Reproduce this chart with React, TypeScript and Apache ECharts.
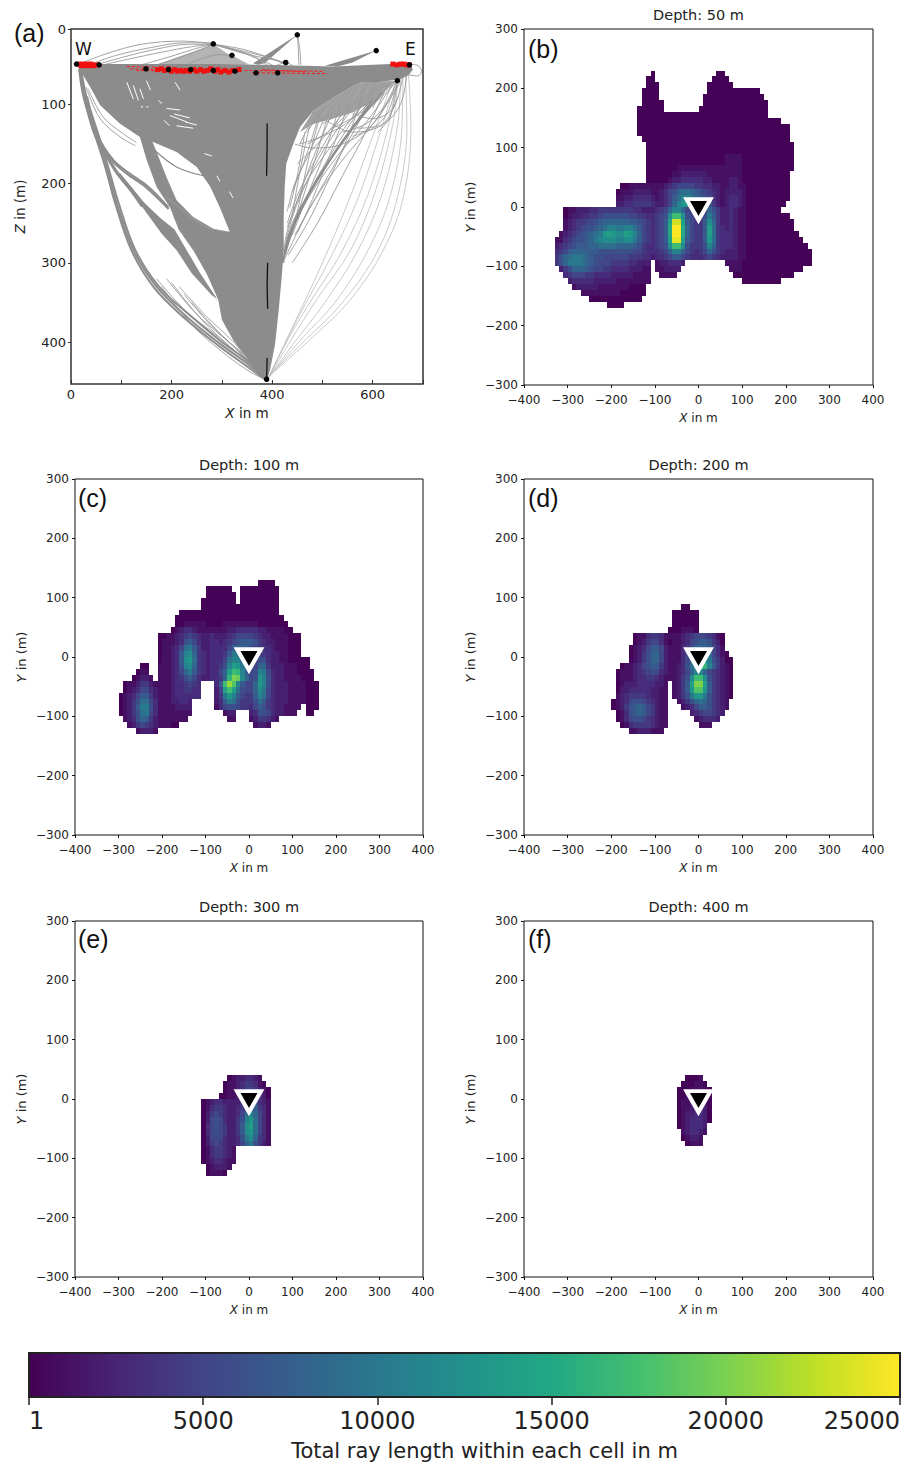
import React, { useEffect, useRef } from "react";
import * as echarts from "echarts";

// ---------- colour scale and colour bar ----------
const viridis = ["#440154", "#482475", "#414487", "#355f8d", "#2a788e", "#21918c", "#22a884", "#44bf70", "#7ad151", "#bddf26", "#fde725"];
const colorbarTicks = [1, 5000, 10000, 15000, 20000, 25000];

// ---------- panel titles ----------
const panelTitles = ["Depth: 50 m", "Depth: 100 m", "Depth: 200 m", "Depth: 300 m", "Depth: 400 m"];
const stationMarker = [0, -4.5];

// ---------- ray length per 10 m cell: "startX/10:cells" per row, in thousands of m (base 36), top row first ----------
const depth50Top = 230;
const depth50Rows = [
  "-11:0 4:00", "-12:00 3:0000", "-12:000 2:0*6", "-13:0000 2:0*12", "-13:0000 1:0*14", "-13:0*5 1:0*15", "-14:0*6 0:0*16",
  "-14:0*30", "-14:0*33", "-14:0*35", "-14:0*35", "-13:0*34", "-12:0*34", "-12:0*34",
  "-12:0*18|1*4|0*12", "-12:0*18|1*4|0*12", "-12:0*7|1*11|1*4|0*12",
  "-12:0*6|112222221111|1111|0*11",
  "-12:0*5|1223333322111|1221|0*11",
  "-18:0011111111|23455554433221|12211|0*10",
  "-19:0111222211|235689987654321|22221|0*10",
  "-19:1122333321|23579bba8765321|23321|0*10",
  "-19:2233444432|2358bddb9876421|23321|0*9",
  "-31:0112223344|4444443322|23458bb854|4458642232|11|0*8",
  "-31:0122334456|6666655443|3456chhc65|446a742232|11|0*10",
  "-31:1234455678|8888877654|3457enne75|447c842232|11|0*11",
  "-31:1234566789|bbaabb9754|3457fppf85|447e943232|11|0*11",
  "-32:1|23456789ad|edccedb854|3457fppf85|447e943332|11|0*12",
  "-33:11|3456678abc|ccbbcca754|3457eooe75|447d943332|11|0*13",
  "-33:23|4567778899|9988887643|3456chhc64|446b843332|11|0*14",
  "-33:34|5788877766|6666665543|33458bb854|3458643222|11|0*15",
  "-33:46|89aa987665|5555544433|2334577543|3345432|222|11|0*15",
  "-33:46|8aaa987655|54444332|22 -10:1223332 6:1111|0*16",
  "-32:24|688876554|43333222|11 -10:112222 7:111|0*14",
  "-31:3455544333|3222221111 -9:1111 8:0*14",
  "-30:233333222|2211111111 10:0*9",
  "-29:12222211111110000",
  "-27:111111111000000",
  "-25:0*12",
  "-21:0000",
];

const depth100Top = 130;
const depth100Rows = [
  "2:0000", "-10:0*6 -2:0*9", "-10:0*7 -2:0*9", "-11:0*8 -2:0*9", "-11:0*8 -3:0*10", "-16:0*23", "-17:0*25",
  "-17:00111110000111111110000000",
  "-18:0123321111111223333322111100",
  "-21:0011|23454322|322234555543|221111000",
  "-21:0111|23675322|332345677764|322111000",
  "-21:0112|359a7422|333357887654|332111000",
  "-21:0112|37bc8432|33347aa87654|432211000",
  "-21:0112|37cd9432|33359bb96556|63221100000",
  "-25:00 -21:1112|36bc8432|3346beda6558|84222111000",
  "-26:011 -21:1112|358a7432|3358ehgb756b|a5322111|0000",
  "-27:01221 -21:1112|34675322|3348gkjc856d|b63221111000",
  "-29:011244211112|334543 -8:37hlib7558db632221111000",
  "-29:012355321112|334433 -8:25ehe96558ca532221111000",
  "-30:0123577421112|333333 -8:24adb75447b9532221111000",
  "-30:0124699531112|2332 -8:237a964446974322|21111000",
  "-30:01247aa631111|2222 -8:13566544357643221111 13:000",
  "-30:012469a531111|1111 -6:122 0:23665322111 13:00",
  "-29:123687421111|111 -5:11 0:1244321",
  "-28:124543211100 1:1221",
  "-26:12221",
];

const depth200Top = 90;
const depth200Rows = [
  "-4:00", "-6:0*6", "-6:0*6", "-6:0*6", "-7:0001110",
  "-15:01134431|1112345554310",
  "-15:01245531|0112356776420",
  "-16:012357752|1113468887531",
  "-16:012468852|1113579aa85310",
  "-16:012468852|111358bdca64200",
  "-18:01|123567742|112369dhgb74210",
  "-19:011|123456532|112358bb8543210",
  "-19:011|123344321|11246chhc643210",
  "-19:012|223333221 -6:1247ekke743210",
  "-19:022|333332211 -6:1247diid743210",
  "-19:123|444432211 -6:1246adda643210",
  "-20:0123|566543211 -5:124689864321",
  "-20:0124|678754211 -4:12357764321",
  "-19:013|678754211 -2:23455432",
  "-19:013|566543211 -1:123332",
  "-18:01|344443211 0:111",
  "-16:11222111",
];

const depth300Top = 40;
const depth300Rows = [
  "-5:01223321", "-6:0112344310", "-6:01123554210", "-7:001123565320",
  "-11:0123322223565321",
  "-11:0134432234797431",
  "-11:02454322359b8531",
  "-11:0256532246bd9531",
  "-11:0356542247ce9531",
  "-11:0356542247cd9531",
  "-11:0255532236ac8431",
  "-11:02454322358a6421",
  "-11:01344321", "-11:01344321", "-11:01233211", "-10:012221", "-10:01110",
];

const depth400Top = 40;
const depth400Rows = [
  "-3:0001", "-4:000110", "-5:00011110", "-5:00112210", "-5:01122210", "-5:01123320",
  "-5:01223320", "-5:01233320", "-5:0123332", "-4:123321", "-4:01221", "-3:0111",
];

// ---------- panel (a): ray fan, X and Z in m ----------
const fanOutline = [
  [11, 49], [124, 49], [283, 49], [389, 50], [522, 52], [635, 49], [675, 50], [680, 56], [671, 63], [655, 68], [608, 72], [575, 72], [528, 89], [482, 108],
  [456, 128], [442, 150], [428, 175], [425, 204], [423, 242], [423, 284], [419, 318], [413, 360], [406, 402], [396, 435], [389, 449],
  [376, 442], [353, 423], [323, 398], [300, 372], [293, 347], [270, 314], [243, 284], [214, 258], [197, 230], [170, 204], [151, 171], [137, 141], [97, 124], [58, 101], [38, 78],
];
const fanStripe = [
  [293, 347], [280, 341], [240, 313], [210, 284], [180, 263], [141, 229], [91, 187], [98, 187], [144, 223], [177, 243], [206, 258], [230, 284], [257, 313], [290, 345],
];
const lensHole = [
  [162, 147], [210, 160], [250, 179], [277, 204], [296, 230], [316, 261], [283, 257], [243, 242], [210, 221], [190, 192], [174, 166],
];
const topFanWedges = [
  [[283, 24], [170, 50], [345, 50]],
  [[320, 38], [285, 50], [355, 50]],
];
const sourceBands = [
  [[450, 12], [362, 48], [372, 50], [385, 48]],
  [[607, 32], [505, 51], [530, 52], [560, 47]],
];
const rightMesh = [[648, 70], [605, 95], [560, 110], [520, 118], [480, 125], [455, 135], [482, 108], [528, 89], [575, 72]];
const whiteFlecks = [
  [[111, 72], [124, 93]], [[124, 76], [134, 95]], [[137, 80], [144, 93]], [[139, 103], [143, 103]], [[150, 103], [154, 103]], [[174, 95], [181, 99]],
  [[190, 105], [217, 107]], [[197, 114], [230, 122]], [[210, 127], [243, 130]], [[227, 122], [250, 126]], [[207, 72], [217, 82]], [[150, 70], [158, 82]],
  [[185, 120], [196, 127]], [[205, 112], [236, 117]], [[265, 162], [280, 165]], [[290, 190], [296, 197]], [[315, 210], [322, 218]],
];
const bandRays = [
  [18, 55, 28, 91, 51, 137, 71, 179, 91, 225, 124, 284, 170, 330, 230, 368, 296, 402, 350, 427, 386, 446],
  [16, 55, 25, 91, 47, 137, 68, 179, 88, 225, 120, 284, 166, 332, 226, 370, 292, 404, 346, 429, 386, 447],
  [20, 55, 31, 91, 54, 137, 74, 179, 95, 225, 128, 284, 175, 330, 236, 366, 300, 400, 354, 425, 387, 446],
  [25, 85, 45, 135, 70, 165, 91, 187, 120, 210, 141, 229],
  [28, 88, 47, 137, 72, 165, 94, 187, 122, 208, 142, 226],
  [30, 90, 50, 140, 80, 170, 110, 187, 150, 205, 194, 232],
  [32, 90, 54, 140, 84, 170, 112, 185, 152, 203, 194, 230],
  [163, 156, 210, 179, 263, 190],
  [165, 154, 212, 177, 262, 188],
  [600, 95, 525, 160, 468, 218, 432, 268, 422, 300],
  [620, 85, 560, 130, 500, 185, 452, 240, 425, 290],
];
const lightRays = [
  [34, 80, 64, 116, 104, 137, 130, 148],
  [30, 78, 58, 118, 100, 142, 128, 152],
  [190, 320, 250, 365, 305, 395, 360, 425, 389, 447],
  [200, 325, 260, 372, 315, 405, 365, 432, 389, 447],
  [215, 330, 270, 368, 320, 398, 362, 428, 389, 447],
  [170, 320, 230, 362, 290, 392, 350, 425, 388, 447],
  [225, 340, 280, 380, 330, 410, 370, 435, 389, 447],
  [240, 350, 290, 385, 335, 412, 372, 435, 389, 447],
  [180, 330, 240, 378, 300, 412, 352, 436, 388, 448],
  [190, 217, 223, 234, 270, 255, 316, 261],
  [172, 150, 210, 165, 255, 185],
  [283, 23, 220, 20, 140, 24, 70, 36, 20, 48],
  [283, 23, 230, 22, 160, 28, 90, 38, 40, 49],
  [283, 24, 240, 27, 180, 34, 120, 42, 70, 49],
  [283, 24, 235, 24, 170, 30, 105, 40, 55, 49],
  [283, 24, 250, 33, 210, 42, 170, 50],
  [283, 24, 245, 30, 195, 40, 140, 50],
  [283, 24, 340, 30, 390, 40, 430, 50],
  [283, 24, 330, 32, 370, 42, 400, 50],
  [283, 24, 320, 30, 360, 38, 390, 50],
  [283, 24, 340, 35, 390, 42, 427, 47],
  [283, 24, 345, 33, 395, 41, 425, 48],
  [320, 38, 295, 37, 230, 50],
  [450, 12, 455, 30, 457, 50],
  [450, 12, 452, 30, 453, 50],
  [427, 47, 410, 50],
  [427, 47, 440, 50],
  [670, 49, 690, 51, 697, 58, 690, 64, 665, 62],
  [580, 100, 520, 150, 462, 205, 432, 255, 423, 285],
  [560, 105, 500, 160, 450, 225, 428, 270],
  [540, 110, 490, 165, 450, 215, 430, 250],
  [520, 110, 480, 170, 448, 225, 430, 255],
  [505, 115, 475, 160, 445, 200, 430, 235],
  [490, 120, 465, 170, 440, 210],
  [640, 75, 590, 120, 530, 165, 475, 215, 430, 270],
  [655, 72, 600, 125, 540, 170, 480, 225, 425, 295],
  [645, 80, 600, 125, 540, 150, 480, 155, 445, 150],
  [650, 90, 620, 125, 560, 135, 520, 125, 480, 110],
  [649, 70, 600, 85, 550, 105, 500, 125],
  [649, 70, 610, 95, 565, 115, 520, 130],
  [649, 70, 620, 105, 585, 125, 540, 135],
  [649, 70, 630, 110, 600, 130, 560, 140],
  [649, 72, 635, 115, 610, 135],
  [575, 70, 555, 90, 530, 110],
  [590, 72, 575, 95, 560, 115],
  [605, 72, 592, 92, 580, 110],
  [620, 72, 610, 90, 600, 105],
  [560, 78, 540, 95, 515, 115],
  [545, 85, 525, 100, 500, 120],
  [530, 90, 505, 105, 480, 125],
  [510, 98, 490, 115, 470, 135],
  [495, 108, 475, 125, 455, 150],
  [585, 75, 550, 110, 510, 135, 470, 150],
  [565, 85, 530, 120, 490, 150, 450, 175],
  [625, 74, 590, 100, 545, 125, 500, 140, 455, 150],
  [668, 60, 655, 100, 620, 125, 570, 130],
  [660, 64, 640, 105, 600, 118, 560, 112],
  [600, 78, 560, 120, 510, 170, 470, 215, 440, 250, 425, 285],
  [610, 76, 570, 125, 525, 175, 480, 225, 445, 265],
  [630, 74, 590, 130, 540, 190, 490, 250, 440, 300],
  [580, 90, 545, 150, 505, 205, 470, 250, 432, 290],
  [555, 95, 520, 155, 480, 220, 450, 262],
  [535, 100, 505, 160, 470, 215, 440, 265],
  [515, 105, 490, 160, 460, 220, 435, 270],
  [495, 115, 470, 175, 450, 235, 430, 275],
  [475, 125, 455, 185, 440, 240],
  [465, 135, 450, 190, 435, 230],
];
const thinArcRays = [
  [671, 61, 676, 128, 661, 217, 621, 284, 555, 347, 482, 393, 396, 442],
  [665, 60, 668, 130, 650, 215, 610, 285, 540, 350, 470, 395, 395, 442],
  [660, 62, 658, 130, 635, 215, 590, 285, 525, 350, 460, 395, 395, 443],
  [655, 65, 650, 125, 620, 210, 570, 285, 505, 350, 445, 400, 394, 444],
  [650, 68, 640, 125, 605, 210, 555, 285, 490, 345, 435, 400, 393, 445],
  [648, 70, 630, 130, 590, 215, 535, 290, 470, 355, 420, 410, 392, 446],
  [645, 72, 615, 135, 570, 220, 515, 295, 455, 365, 412, 420, 392, 446],
  [640, 70, 600, 140, 550, 225, 500, 300, 445, 375, 408, 425, 391, 447],
];
const blackStreaks = [
  [390, 124, 390, 150, 389, 190],
  [391, 300, 390, 330, 391, 358],
  [390, 420, 389, 450],
];
const redDashes = [
  [111, 52, 170, 53], [118, 55, 175, 56], [130, 57, 170, 57.5],
  [345, 57, 500, 58], [360, 60, 510, 61], [380, 56, 470, 59],
];
const redPoints = [
  [16, 49], [20, 51], [24, 49], [28, 51], [32, 49], [36, 51], [40, 49], [45, 51], [50, 50],
  [172, 56], [180, 55], [186, 57], [194, 55], [200, 58], [206, 56], [212, 58], [218, 57], [224, 58], [230, 57], [236, 58], [244, 56],
  [250, 58], [258, 56], [264, 58], [272, 57], [278, 55], [286, 58], [292, 56], [298, 59], [306, 57], [314, 59], [322, 57], [334, 56],
  [640, 49], [648, 50], [655, 49], [662, 49], [668, 50], [673, 50],
];
const blackSources = [
  [283, 23.5], [320, 38], [450, 12], [607, 32], [427, 47], [11, 49], [56, 50], [149, 55], [194, 56],
  [238, 56], [283, 57], [326, 58], [368, 60], [411, 60], [649, 70], [673, 50], [389, 447],
];

// ---------- helpers ----------
const FONT = "DejaVu Sans";
const toPairs = (flat: number[]) => {
  const out: number[][] = [];
  for (let i = 0; i < flat.length; i += 2) out.push([flat[i], flat[i + 1]]);
  return out;
};

const decodeRows = (rows: string[], top: number) => {
  const cells: number[][] = [];
  rows.forEach((row, r) => {
    row.split(" ").forEach((seg) => {
      const [start, body] = seg.split(":");
      const expanded = body.replace(/(\w)\*(\d+)/g, (_m, c, n) => c.repeat(Number(n))).replace(/\|/g, "");
      [...expanded].forEach((ch, i) => {
        cells.push([Number(start) * 10 + i * 10, top - r * 10, Math.max(1, parseInt(ch, 36) * 1000 + 150)]);
      });
    });
  });
  return cells;
};

const polygonSeries = (pts: number[][], fill: string, z: number) => ({
  type: "custom", coordinateSystem: "cartesian2d", xAxisIndex: 0, yAxisIndex: 0, silent: true, clip: true, z,
  data: [[pts[0][0], pts[0][1]]],
  renderItem: (_p: any, api: any) => ({ type: "polygon", shape: { points: pts.map((q) => api.coord(q)) }, style: { fill } }),
});

const raySeries = (flat: number[], color: string, width: number, z: number, dashed = false, smooth: number | boolean = 0.35) => ({
  type: "line", xAxisIndex: 0, yAxisIndex: 0, data: toPairs(flat), showSymbol: false, silent: true, clip: true, z, smooth,
  lineStyle: { color, width, type: dashed ? [3, 2] : "solid" },
});

const axisText = { fontFamily: FONT, color: "#222" };
const nameRich = (size: number) => ({
  i: { fontFamily: FONT, fontSize: size, fontStyle: "italic", color: "#222" },
  n: { fontFamily: FONT, fontSize: size, color: "#222" },
});
const noLine = { show: false, onZero: false };

export default function App() {
  const ref = useRef<HTMLDivElement>(null);
  useEffect(() => {
    document.body.style.margin = "0";
    const chart = echarts.init(ref.current!, undefined, { renderer: "svg" });

    const panelGrids = [
      { left: 524, top: 29, width: 349, height: 356 },
      { left: 75, top: 479, width: 348, height: 356 },
      { left: 524, top: 479, width: 349, height: 356 },
      { left: 75, top: 921, width: 348, height: 356 },
      { left: 524, top: 921, width: 349, height: 356 },
    ];
    const grids: any[] = [
      { left: 71, top: 29, width: 352, height: 355, show: true, borderColor: "#333", borderWidth: 1.5 },
      ...panelGrids.map((g) => ({ ...g, show: true, borderColor: "#111", borderWidth: 1 })),
      { left: 29, top: 1353, width: 871, height: 44, show: true, borderColor: "#222", borderWidth: 2, z: 8 },
    ];

    const xAxes: any[] = [
      {
        gridIndex: 0, type: "value", min: 0, max: 700, interval: 100, position: "bottom",
        splitLine: { show: false }, axisLine: noLine,
        axisTick: { inside: true, length: 4, lineStyle: { color: "#333" } },
        axisLabel: { ...axisText, fontSize: 13, margin: 4, formatter: (v: number) => (v % 200 === 0 ? String(v) : "") },
        name: "{i|X}{n| in m}", nameLocation: "middle", nameGap: 22, nameTextStyle: { rich: nameRich(13.5) },
      },
      ...panelGrids.map((_g, i) => ({
        gridIndex: i + 1, type: "value", min: -400, max: 400, interval: 100, position: "bottom",
        splitLine: { show: false }, axisLine: noLine,
        axisTick: { length: 3, lineStyle: { color: "#111" } },
        axisLabel: { ...axisText, fontSize: 12, margin: 9, formatter: (v: number) => String(v).replace("-", "\u2212") },
        name: "{i|X}{n| in m}", nameLocation: "middle", nameGap: 27, nameTextStyle: { rich: nameRich(12) },
      })),
      {
        gridIndex: 6, type: "value", min: 1, max: 25000, position: "bottom",
        splitLine: { show: false }, axisLine: noLine,
        axisTick: { length: 8, customValues: colorbarTicks, lineStyle: { color: "#222", width: 1.5 } },
        axisLabel: {
          ...axisText, fontSize: 24, margin: 12, customValues: colorbarTicks, alignMinLabel: "left", alignMaxLabel: "right",
          showMinLabel: true, showMaxLabel: true, formatter: (v: number) => String(v),
        },
        name: "Total ray length within each cell in m", nameLocation: "middle", nameGap: 43,
        nameTextStyle: { fontFamily: FONT, fontSize: 21, color: "#222", padding: [0, 0, 0, 40] },
      },
    ];
    const zTicks = [4.7, 100, 200, 300, 400];
    const yAxes: any[] = [
      {
        gridIndex: 0, type: "value", min: 4.7, max: 453, inverse: true, position: "left",
        splitLine: { show: false }, axisLine: noLine,
        axisTick: { length: 3, customValues: zTicks, lineStyle: { color: "#333" } },
        axisLabel: { ...axisText, fontSize: 13, margin: 5, customValues: zTicks, showMinLabel: true, formatter: (v: number) => (v < 10 ? "0" : String(v)) },
        name: "{i|Z}{n| in (m)}", nameLocation: "middle", nameGap: 44, nameTextStyle: { rich: nameRich(13.5) },
      },
      ...panelGrids.map((_g, i) => ({
        gridIndex: i + 1, type: "value", min: -300, max: 300, interval: 100, position: "left",
        splitLine: { show: false }, axisLine: noLine,
        axisTick: { length: 3, lineStyle: { color: "#111" } },
        axisLabel: { ...axisText, fontSize: 12, margin: 6, formatter: (v: number) => String(v).replace("-", "\u2212") },
        name: "{i|Y}{n| in (m)}", nameLocation: "middle", nameGap: 47, nameTextStyle: { rich: nameRich(13) },
      })),
      { gridIndex: 6, type: "value", min: 0, max: 1, show: false },
    ];

    const GRAY = "#8c8c8c";
    const series: any[] = [];
    series.push(polygonSeries(rightMesh, "#a2a2a2", 2));
    topFanWedges.forEach((w) => series.push(polygonSeries(w, "#b4b4b4", 2)));
    sourceBands.forEach((w) => series.push(polygonSeries(w, GRAY, 2)));
    thinArcRays.forEach((r) => series.push(raySeries(r, "#bdbdbd", 0.8, 2)));
    lightRays.forEach((r) => series.push(raySeries(r, "#999999", 0.9, 2)));
    bandRays.forEach((r) => series.push(raySeries(r, GRAY, 2, 2)));
    series.push(polygonSeries(fanOutline, GRAY, 3));
    series.push(polygonSeries(fanStripe, GRAY, 3));
    series.push(polygonSeries(lensHole, "#ffffff", 4));
    whiteFlecks.forEach((f) => series.push(raySeries(f.flat(), "#ffffff", 1, 4, false, false)));
    series.push(raySeries([163, 156, 210, 179, 263, 190], GRAY, 1.2, 5));
    series.push(raySeries([190, 217, 223, 234, 270, 255, 316, 261], "#a0a0a0", 0.9, 5));
    redDashes.forEach((d) => series.push(raySeries(d, "#ff1a1a", 1, 6, true, false)));
    blackStreaks.forEach((d) => series.push(raySeries(d, "#111111", 1.3, 6, false, false)));
    series.push({
      type: "scatter", xAxisIndex: 0, yAxisIndex: 0, data: redPoints, symbol: "rect", symbolSize: 5, silent: true, z: 7,
      itemStyle: { color: "#f01010", opacity: 1 },
    });
    series.push({
      type: "scatter", xAxisIndex: 0, yAxisIndex: 0, data: blackSources, symbolSize: 5.5, silent: true, z: 8,
      itemStyle: { color: "#050505", opacity: 1 },
    });

    const panels = [
      [depth50Rows, depth50Top], [depth100Rows, depth100Top], [depth200Rows, depth200Top], [depth300Rows, depth300Top], [depth400Rows, depth400Top],
    ] as [string[], number][];
    const heatIdx: number[] = [];
    panels.forEach(([rows, top], i) => {
      heatIdx.push(series.length);
      series.push({
        type: "custom", coordinateSystem: "cartesian2d", xAxisIndex: i + 1, yAxisIndex: i + 1, silent: true, z: 2,
        data: decodeRows(rows, top), encode: { x: 0, y: 1 }, dimensions: ["x", "y", "len"],
        renderItem: (_p: any, api: any) => {
          const x = api.value(0), y = api.value(1);
          const a = api.coord([x, y]), b = api.coord([x + 10, y - 10]);
          const x0 = Math.round(a[0]), y0 = Math.round(a[1]);
          return { type: "rect", shape: { x: x0, y: y0, width: Math.round(b[0]) - x0, height: Math.round(b[1]) - y0 }, style: { fill: api.visual("color") } };
        },
      });
      series.push({
        type: "scatter", xAxisIndex: i + 1, yAxisIndex: i + 1, data: [stationMarker], symbol: "triangle", symbolRotate: 180, symbolSize: [24, 21], silent: true, z: 5,
        itemStyle: { color: "#000", borderColor: "#fff", borderWidth: 4, borderJoin: "miter", opacity: 1 },
      });
    });
    const stops = viridis.map((color, i) => ({ offset: i / (viridis.length - 1), color }));
    series.push({
      type: "custom", coordinateSystem: "cartesian2d", xAxisIndex: 6, yAxisIndex: 6, silent: true, z: 2,
      data: [[colorbarTicks[0], 0, colorbarTicks[colorbarTicks.length - 1], 1]],
      renderItem: (_p: any, api: any) => {
        const a = api.coord([api.value(0), api.value(3)]), b = api.coord([api.value(2), api.value(1)]);
        return {
          type: "rect", shape: { x: a[0], y: a[1], width: b[0] - a[0], height: b[1] - a[1] },
          style: { fill: new echarts.graphic.LinearGradient(0, 0, 1, 0, stops) },
        };
      },
    });

    const letter = (text: string, left: number, top: number) => ({
      type: "text", left, top, z: 20, style: { text, font: "25px 'Liberation Sans'", fill: "#111" },
    });
    const sideLabel = (text: string, left: number, top: number) => ({
      type: "text", left, top, z: 20, style: { text, font: `17px '${FONT}'`, fill: "#111" },
    });

    chart.setOption({
      animation: false,
      backgroundColor: "#ffffff",
      title: panelTitles.map((text, i) => ({
        text, left: panelGrids[i].left + panelGrids[i].width / 2, top: panelGrids[i].top - 22, textAlign: "center", padding: 0,
        textStyle: { fontFamily: FONT, fontSize: 14.5, fontWeight: "normal", color: "#222" },
      })),
      grid: grids,
      xAxis: xAxes,
      yAxis: yAxes,
      visualMap: { type: "continuous", show: false, min: 1, max: 25000, dimension: 2, seriesIndex: heatIdx, inRange: { color: viridis } },
      graphic: [
        letter("(a)", 14, 20), letter("(b)", 528, 36), letter("(c)", 78, 485), letter("(d)", 528, 485), letter("(e)", 78, 926), letter("(f)", 528, 926),
        sideLabel("W", 75, 40), sideLabel("E", 405, 40),
      ],
      series,
    });
    return () => chart.dispose();
  }, []);
  return <div ref={ref} style={{ width: 909, height: 1465 }} />;
}
